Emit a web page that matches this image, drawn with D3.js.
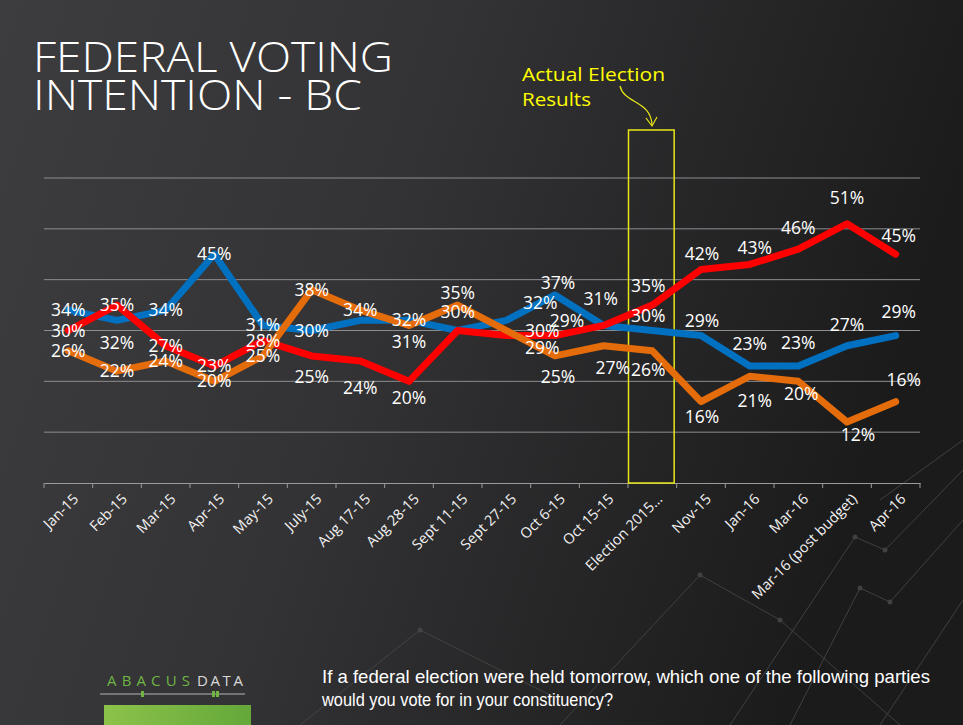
<!DOCTYPE html>
<html>
<head>
<meta charset="utf-8">
<script src="https://cdn.jsdelivr.net/npm/d3@7"></script>
<style>
  html, body { margin: 0; padding: 0; background: #2b2a2c; }
  svg { display: block; }
</style>
</head>
<body>
<svg id="chart" width="963" height="725"></svg>
<script>
// ---------------- DATA ----------------
const categories = ["Jan-15", "Feb-15", "Mar-15", "Apr-15", "May-15", "July-15", "Aug 17-15", "Aug 28-15",
  "Sept 11-15", "Sept 27-15", "Oct 6-15", "Oct 15-15", "Election 2015…", "Nov-15", "Jan-16", "Mar-16",
  "Mar-16 (post budget)", "Apr-16"];
const cpc = [34, 32, 34, 45, 31, 30, 32, 32, 30, 32, 37, 31, 30, 29, 23, 23, 27, 29];
const lib = [30, 35, 27, 23, 28, 25, 24, 20, 30, 29, 29, 31, 35, 42, 43, 46, 51, 45];
const ndp = [26, 22, 24, 20, 25, 38, 34, 31, 35, 30, 25, 27, 26, 16, 21, 20, 12, 16];
const yTicks = [0, 10, 20, 30, 40, 50, 60];
const highlightCategory = "Election 2015…";

// label placement (offsets from each point; null = no label)
const cpcLabelDy = [0, 23, 0, 0, 0, 0, null, 0, null, -17, -12, -26, -15, -15, -22, -23, -21, -24];
const cpcLabelDx = [0, 0, 0, 0, 0, 0, 0, 0, 0, 34, 3, -3, -4, 1, 0, 0, 0, 3];
const libLabelDy = [0, 0, 0, 0, 0, 21, 27, 17, -19, 12, -15, null, -19, -16, -16, -21, -26, -18];
const libLabelDx = [0, 0, 0, 0, 0, 0, 0, 0, 0, 36, 12, 0, -4, 1, 5, 0, 0, 3];
const ndpLabelDy = [0, 0, 0, 0, 0, 0, 0, 17, -12, 0, 21, 22, 19, 15, 25, 13, 13, -22];
const ndpLabelDx = [0, 0, 0, 0, 0, 0, 0, 0, 0, 36, 3, 9, -4, 1, 5, 3, 11, 8];

const series = [
  { name: "CPC", values: cpc, color: "#0070C0", dx: cpcLabelDx, dy: cpcLabelDy },
  { name: "LPC", values: lib, color: "#FF0000", dx: libLabelDx, dy: libLabelDy },
  { name: "NDP", values: ndp, color: "#E46C0A", dx: ndpLabelDx, dy: ndpLabelDy }
];

// ---------------- SETUP ----------------
const svg = d3.select("#chart");
const W = 963, H = 725;
const defs = svg.append("defs");

const bg = defs.append("linearGradient").attr("id", "bg").attr("x1", "0").attr("y1", "0").attr("x2", "1").attr("y2", "0.25");
bg.append("stop").attr("offset", "0%").attr("stop-color", "#3d3c3e");
bg.append("stop").attr("offset", "45%").attr("stop-color", "#333234");
bg.append("stop").attr("offset", "100%").attr("stop-color", "#1c1b1c");
svg.append("rect").attr("width", W).attr("height", H).attr("fill", "url(#bg)");

const gr = defs.append("linearGradient").attr("id", "grn").attr("x1", "0").attr("y1", "0").attr("x2", "1").attr("y2", "0");
gr.append("stop").attr("offset", "0%").attr("stop-color", "#8cc24a");
gr.append("stop").attr("offset", "100%").attr("stop-color", "#64a83a");

// decorative faint network lines (background ornament)
const deco = svg.append("g").attr("stroke", "#4a494b").attr("stroke-width", 1).attr("fill", "none").attr("opacity", 0.8);
const decoPaths = [
  [[560, 725], [700, 575], [780, 620], [900, 725]],
  [[730, 725], [855, 537], [885, 550], [963, 470]],
  [[790, 725], [860, 588], [890, 602], [963, 520]],
  [[880, 725], [963, 600]],
  [[300, 725], [420, 630], [560, 700]],
  [[880, 500], [963, 440]]
];
decoPaths.forEach(p => {
  deco.append("path").attr("d", d3.line()(p));
  p.slice(1, -1).forEach(pt => deco.append("circle").attr("cx", pt[0]).attr("cy", pt[1]).attr("r", 2.5).attr("fill", "#4a494b").attr("stroke", "none"));
});

// ---------------- SCALES ----------------
const x = d3.scaleBand().domain(categories).range([44, 920]).paddingInner(0).paddingOuter(0);
const y = d3.scaleLinear().domain([0, 60]).range([483, 178]);
const cx = c => x(c) + x.bandwidth() / 2;

// gridlines
svg.append("g").selectAll("line").data(yTicks.filter(t => t > 0)).join("line")
  .attr("x1", 44).attr("x2", 920)
  .attr("y1", d => y(d)).attr("y2", d => y(d))
  .attr("stroke", "#8e8d8f").attr("stroke-width", 1);

// x axis
const xAxis = d3.axisBottom(x).tickSize(0).tickPadding(0);
const gx = svg.append("g").attr("transform", `translate(0,${y(0)})`).call(xAxis);
gx.select(".domain").attr("stroke", "#9a999b").attr("stroke-width", 1.2);
gx.selectAll(".tick line").remove();
const bounds = categories.map(c => x(c)).concat([x(categories[categories.length - 1]) + x.bandwidth()]);
gx.selectAll(".bt").data(bounds).join("line").attr("class", "bt")
  .attr("x1", d => d).attr("x2", d => d).attr("y1", 0).attr("y2", 5)
  .attr("stroke", "#9a999b").attr("stroke-width", 1);
gx.selectAll(".tick text")
  .attr("fill", "#f2f2f2")
  .attr("font-family", "'Open Sans', sans-serif")
  .attr("font-size", 14.5)
  .attr("text-anchor", "end")
  .attr("dy", 0)
  .attr("transform", "translate(11,17) rotate(-45)");

// election highlight rectangle
svg.append("rect")
  .attr("x", x(highlightCategory) + 0.5)
  .attr("y", 130)
  .attr("width", x.bandwidth() - 3)
  .attr("height", y(0) - 130)
  .attr("fill", "none").attr("stroke", "#e8e817").attr("stroke-width", 1.5);

// ---------------- LINES ----------------
const line = d3.line().x((d, i) => cx(categories[i])).y(d => y(d));
series.forEach(s => {
  svg.append("path").datum(s.values).attr("d", line)
    .attr("fill", "none").attr("stroke", s.color).attr("stroke-width", 7)
    .attr("stroke-linejoin", "round").attr("stroke-linecap", "round");
});

// ---------------- LABELS ----------------
series.forEach(s => {
  const g = svg.append("g");
  s.values.forEach((v, i) => {
    if (s.dy[i] === null) return;
    g.append("text")
      .attr("x", cx(categories[i]) + s.dx[i])
      .attr("y", y(v) + s.dy[i] + 6)
      .attr("text-anchor", "middle")
      .attr("fill", "#ffffff")
      .attr("font-family", "'Open Sans', sans-serif")
      .attr("font-size", 17.5)
      .text(v + "%");
  });
});

// ---------------- TITLE & ANNOTATIONS ----------------
svg.append("text").attr("x", 33).attr("y", 72)
  .attr("fill", "#ffffff").attr("font-family", "'Open Sans', sans-serif").attr("font-weight", 300)
  .attr("font-size", 43).attr("textLength", 360).attr("lengthAdjust", "spacingAndGlyphs")
  .text("FEDERAL VOTING");
svg.append("text").attr("x", 33).attr("y", 110)
  .attr("fill", "#ffffff").attr("font-family", "'Open Sans', sans-serif").attr("font-weight", 300)
  .attr("font-size", 43).attr("textLength", 329).attr("lengthAdjust", "spacingAndGlyphs")
  .text("INTENTION - BC");

svg.append("text").attr("x", 522).attr("y", 81)
  .attr("fill", "#ffff00").attr("font-family", "'Open Sans', sans-serif")
  .attr("font-size", 19).attr("textLength", 143).attr("lengthAdjust", "spacingAndGlyphs")
  .text("Actual Election");
svg.append("text").attr("x", 522).attr("y", 106)
  .attr("fill", "#ffff00").attr("font-family", "'Open Sans', sans-serif")
  .attr("font-size", 19).attr("textLength", 69).attr("lengthAdjust", "spacingAndGlyphs")
  .text("Results");

svg.append("path").attr("d", "M 620 86 C 624 104, 651 100, 652 125")
  .attr("fill", "none").attr("stroke", "#e8e817").attr("stroke-width", 1.2);
svg.append("path").attr("d", "M 646 118 L 652 126 L 657 117")
  .attr("fill", "none").attr("stroke", "#e8e817").attr("stroke-width", 1.2);

// ---------------- FOOTER ----------------
svg.append("text").attr("x", 107).attr("y", 686)
  .attr("font-family", "'Open Sans', sans-serif").attr("font-size", 15)
  .attr("fill", "#6fb544").attr("textLength", 83).attr("lengthAdjust", "spacing")
  .text("ABACUS");
svg.append("text").attr("x", 197).attr("y", 686)
  .attr("font-family", "'Open Sans', sans-serif").attr("font-size", 15)
  .attr("fill", "#d9d9d9").attr("textLength", 46).attr("lengthAdjust", "spacing")
  .text("DATA");
svg.append("line").attr("x1", 100).attr("x2", 245).attr("y1", 694).attr("y2", 694)
  .attr("stroke", "#b5b5b5").attr("stroke-width", 1);
svg.append("rect").attr("x", 141).attr("y", 691).attr("width", 3).attr("height", 6).attr("fill", "#6fb544");
svg.append("rect").attr("x", 212).attr("y", 691).attr("width", 3).attr("height", 6).attr("fill", "#6fb544");
svg.append("rect").attr("x", 216).attr("y", 691).attr("width", 3).attr("height", 6).attr("fill", "#6fb544");
svg.append("rect").attr("x", 104).attr("y", 705).attr("width", 147).attr("height", 20).attr("fill", "url(#grn)");

svg.append("text").attr("x", 322).attr("y", 683)
  .attr("fill", "#ffffff").attr("font-family", "'Liberation Sans', Arial, sans-serif")
  .attr("font-size", 19).attr("textLength", 608).attr("lengthAdjust", "spacingAndGlyphs")
  .text("If a federal election were held tomorrow, which one of the following parties");
svg.append("text").attr("x", 322).attr("y", 706)
  .attr("fill", "#ffffff").attr("font-family", "'Liberation Sans', Arial, sans-serif")
  .attr("font-size", 19).attr("textLength", 291).attr("lengthAdjust", "spacingAndGlyphs")
  .text("would you vote for in your constituency?");
</script>
</body>
</html>
